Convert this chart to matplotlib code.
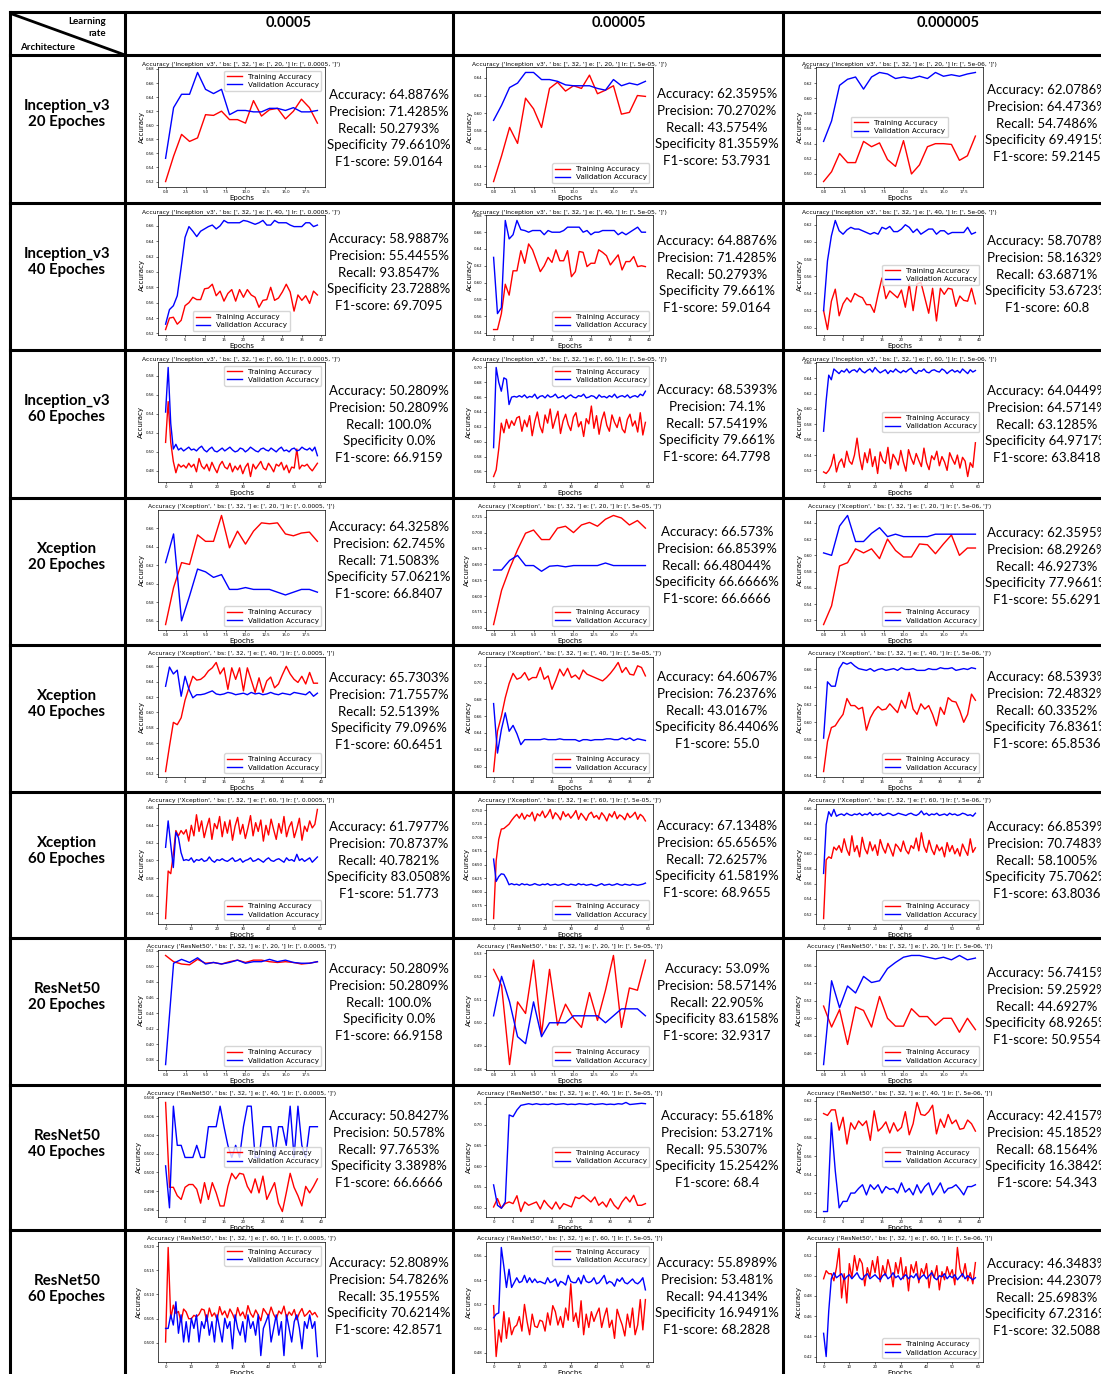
import matplotlib
matplotlib.use('Agg')
import matplotlib.pyplot as plt
from matplotlib.lines import Line2D

# ---- data -------------------------------------------------------------
architectures = ['Inception_v3', 'Xception', 'ResNet50']
epoch_counts = [20, 40, 60]
learning_rates = ['0.0005', '0.00005', '0.000005']
lr_in_title = ['0.0005', '5e-05', '5e-06']

# Inception_v3, 20 epochs
inc20_lr1_train = [0.520,0.556,0.587,0.577,0.582,0.615,0.614,0.620,0.608,0.608,
                   0.603,0.635,0.613,0.622,0.624,0.609,0.620,0.637,0.625,0.603]
inc20_lr1_val = [0.553,0.625,0.644,0.644,0.675,0.651,0.645,0.651,0.615,0.621,
                 0.621,0.619,0.619,0.624,0.624,0.621,0.625,0.619,0.619,0.621]
inc20_lr2_train = [0.523,0.552,0.584,0.566,0.617,0.605,0.584,0.628,0.635,0.625,
                   0.631,0.628,0.643,0.622,0.626,0.631,0.599,0.601,0.620,0.619]
inc20_lr2_val = [0.592,0.609,0.629,0.634,0.646,0.646,0.638,0.638,0.636,0.632,
                 0.631,0.631,0.631,0.628,0.626,0.638,0.631,0.634,0.632,0.636]
inc20_lr3_train = [0.490,0.503,0.527,0.515,0.515,0.543,0.536,0.541,0.519,0.510,
                   0.544,0.500,0.512,0.536,0.540,0.540,0.539,0.518,0.524,0.550]
inc20_lr3_val = [0.543,0.570,0.617,0.625,0.628,0.612,0.628,0.634,0.632,0.626,
                 0.628,0.626,0.629,0.626,0.634,0.629,0.631,0.629,0.632,0.634]

# Inception_v3, 40 epochs
inc40_lr1_train = [0.525,0.540,0.541,0.532,0.537,0.556,0.560,0.567,0.564,0.564,
                   0.578,0.579,0.584,0.569,0.575,0.562,0.572,0.577,0.562,0.577,
                   0.567,0.577,0.570,0.567,0.554,0.563,0.564,0.580,0.563,0.566,
                   0.574,0.584,0.574,0.549,0.570,0.563,0.569,0.559,0.575,0.570]
inc40_lr1_val = [0.532,0.551,0.556,0.569,0.606,0.645,0.659,0.653,0.646,0.653,
                 0.656,0.659,0.661,0.656,0.660,0.667,0.664,0.664,0.664,0.664,
                 0.667,0.666,0.664,0.662,0.664,0.667,0.661,0.661,0.667,0.664,
                 0.664,0.664,0.661,0.659,0.659,0.659,0.664,0.664,0.659,0.661]
inc40_lr2_train = [0.544,0.544,0.563,0.598,0.585,0.614,0.614,0.638,0.623,0.646,
                   0.639,0.626,0.613,0.620,0.630,0.624,0.639,0.626,0.626,0.638,
                   0.607,0.613,0.637,0.636,0.619,0.623,0.623,0.639,0.636,0.632,
                   0.621,0.627,0.633,0.615,0.625,0.625,0.631,0.619,0.620,0.619]
inc40_lr2_val = [0.630,0.563,0.570,0.674,0.652,0.657,0.674,0.663,0.662,0.660,
                 0.662,0.662,0.662,0.657,0.662,0.660,0.660,0.660,0.662,0.666,
                 0.666,0.666,0.666,0.660,0.662,0.657,0.660,0.660,0.662,0.662,
                 0.662,0.662,0.657,0.660,0.657,0.660,0.663,0.666,0.660,0.660]
inc40_lr3_train = [0.520,0.498,0.531,0.545,0.514,0.528,0.535,0.530,0.540,0.537,
                   0.535,0.527,0.527,0.518,0.539,0.558,0.534,0.543,0.539,0.535,
                   0.544,0.524,0.551,0.520,0.551,0.553,0.535,0.517,0.546,0.508,
                   0.546,0.539,0.546,0.545,0.525,0.537,0.532,0.531,0.546,0.528]
inc40_lr3_val = [0.520,0.578,0.607,0.625,0.613,0.609,0.614,0.617,0.615,0.615,
                 0.613,0.611,0.609,0.611,0.609,0.617,0.615,0.618,0.612,0.612,
                 0.615,0.620,0.617,0.611,0.615,0.609,0.612,0.615,0.615,0.609,
                 0.613,0.613,0.609,0.611,0.611,0.611,0.611,0.617,0.609,0.611]

# Inception_v3, 60 epochs
inc60_lr1_train = [0.510,0.553,0.510,0.490,0.478,0.487,0.484,0.486,0.483,0.488,
                   0.484,0.487,0.479,0.493,0.485,0.482,0.487,0.480,0.489,0.483,
                   0.478,0.486,0.490,0.484,0.482,0.488,0.479,0.485,0.481,0.486,
                   0.477,0.484,0.488,0.474,0.487,0.482,0.486,0.490,0.483,0.481,
                   0.488,0.484,0.479,0.487,0.485,0.489,0.481,0.486,0.478,0.484,
                   0.483,0.503,0.482,0.486,0.485,0.487,0.483,0.480,0.484,0.488]
inc60_lr1_val = [0.542,0.589,0.530,0.503,0.508,0.502,0.504,0.501,0.503,0.505,
                 0.502,0.503,0.501,0.504,0.506,0.502,0.500,0.503,0.505,0.501,
                 0.500,0.502,0.504,0.501,0.503,0.505,0.502,0.500,0.501,0.504,
                 0.503,0.500,0.502,0.505,0.503,0.501,0.500,0.503,0.504,0.502,
                 0.501,0.504,0.502,0.500,0.503,0.505,0.501,0.502,0.500,0.503,
                 0.504,0.501,0.502,0.505,0.503,0.502,0.504,0.501,0.505,0.496]
inc60_lr2_train = [0.553,0.562,0.590,0.625,0.612,0.630,0.618,0.628,0.622,0.632,
                   0.634,0.614,0.629,0.620,0.635,0.608,0.627,0.640,0.621,0.612,
                   0.636,0.625,0.644,0.618,0.630,0.641,0.611,0.628,0.637,0.623,
                   0.615,0.633,0.639,0.620,0.627,0.607,0.631,0.624,0.648,0.618,
                   0.635,0.610,0.629,0.640,0.622,0.614,0.636,0.626,0.619,0.633,
                   0.617,0.612,0.630,0.637,0.621,0.628,0.613,0.639,0.609,0.626]
inc60_lr2_val = [0.592,0.700,0.680,0.668,0.686,0.684,0.650,0.660,0.661,0.660,
                 0.662,0.660,0.663,0.659,0.661,0.660,0.664,0.658,0.661,0.662,
                 0.659,0.663,0.660,0.661,0.664,0.659,0.660,0.662,0.658,0.661,
                 0.663,0.660,0.659,0.662,0.661,0.664,0.659,0.660,0.662,0.661,
                 0.658,0.663,0.660,0.661,0.659,0.662,0.660,0.664,0.659,0.661,
                 0.662,0.660,0.663,0.659,0.661,0.662,0.660,0.664,0.662,0.668]
inc60_lr3_train = [0.518,0.516,0.520,0.527,0.541,0.518,0.530,0.535,0.524,0.545,
                   0.532,0.528,0.540,0.562,0.537,0.521,0.543,0.530,0.548,0.525,
                   0.538,0.516,0.544,0.533,0.529,0.550,0.522,0.541,0.535,0.527,
                   0.546,0.531,0.519,0.547,0.536,0.528,0.542,0.533,0.525,0.549,
                   0.530,0.521,0.539,0.534,0.545,0.526,0.538,0.531,0.520,0.543,
                   0.535,0.528,0.540,0.523,0.537,0.532,0.512,0.530,0.524,0.556]
inc60_lr3_val = [0.571,0.611,0.644,0.638,0.652,0.649,0.646,0.650,0.648,0.652,
                 0.647,0.650,0.651,0.648,0.653,0.649,0.647,0.650,0.652,0.648,
                 0.654,0.650,0.647,0.649,0.651,0.646,0.650,0.648,0.652,0.649,
                 0.647,0.650,0.648,0.651,0.653,0.648,0.646,0.650,0.649,0.652,
                 0.648,0.647,0.650,0.651,0.649,0.648,0.652,0.650,0.646,0.649,
                 0.651,0.648,0.650,0.647,0.652,0.649,0.646,0.651,0.648,0.650]

# Xception, 20 epochs
xcp20_lr1_train = [0.556,0.596,0.623,0.621,0.653,0.646,0.646,0.674,0.639,0.657,
                   0.643,0.657,0.666,0.665,0.666,0.654,0.652,0.655,0.656,0.646]
xcp20_lr1_val = [0.623,0.654,0.560,0.587,0.616,0.613,0.607,0.610,0.594,0.594,
                 0.596,0.594,0.594,0.594,0.591,0.588,0.591,0.594,0.594,0.591]
xcp20_lr2_train = [0.555,0.609,0.643,0.673,0.699,0.704,0.689,0.689,0.707,0.710,
                   0.700,0.712,0.716,0.710,0.721,0.727,0.723,0.712,0.719,0.707]
xcp20_lr2_val = [0.641,0.641,0.656,0.664,0.648,0.648,0.639,0.647,0.648,0.646,
                 0.648,0.648,0.648,0.648,0.652,0.648,0.648,0.648,0.648,0.648]
xcp20_lr3_train = [0.515,0.538,0.587,0.591,0.608,0.603,0.608,0.596,0.620,0.606,
                   0.598,0.598,0.614,0.613,0.602,0.614,0.625,0.600,0.609,0.609]
xcp20_lr3_val = [0.603,0.600,0.636,0.649,0.617,0.617,0.627,0.634,0.623,0.626,
                 0.623,0.623,0.623,0.623,0.626,0.626,0.626,0.626,0.626,0.626]

# Xception, 40 epochs
xcp40_lr1_train = [0.523,0.556,0.587,0.584,0.593,0.616,0.632,0.647,0.642,0.643,
                   0.647,0.654,0.658,0.665,0.650,0.658,0.630,0.658,0.643,0.658,
                   0.628,0.658,0.642,0.626,0.645,0.626,0.641,0.646,0.632,0.637,
                   0.649,0.660,0.650,0.643,0.639,0.647,0.637,0.652,0.638,0.638]
xcp40_lr1_val = [0.634,0.659,0.650,0.655,0.621,0.647,0.630,0.619,0.623,0.623,
                 0.624,0.626,0.628,0.624,0.623,0.624,0.626,0.625,0.623,0.624,
                 0.625,0.623,0.626,0.624,0.625,0.623,0.624,0.626,0.624,0.623,
                 0.625,0.624,0.623,0.626,0.625,0.624,0.623,0.627,0.621,0.625]
xcp40_lr2_train = [0.594,0.642,0.660,0.682,0.699,0.711,0.704,0.706,0.712,0.703,
                   0.706,0.706,0.718,0.704,0.708,0.692,0.703,0.716,0.708,0.717,
                   0.706,0.709,0.704,0.715,0.710,0.708,0.706,0.704,0.702,0.706,
                   0.711,0.717,0.724,0.712,0.718,0.710,0.709,0.720,0.718,0.708]
xcp40_lr2_val = [0.675,0.616,0.644,0.664,0.642,0.649,0.639,0.626,0.632,0.632,
                 0.632,0.632,0.632,0.633,0.632,0.632,0.632,0.633,0.632,0.632,
                 0.632,0.632,0.630,0.632,0.632,0.631,0.632,0.632,0.632,0.633,
                 0.633,0.632,0.632,0.634,0.632,0.634,0.631,0.633,0.632,0.631]
xcp40_lr3_train = [0.544,0.578,0.594,0.596,0.603,0.609,0.627,0.619,0.619,0.615,
                   0.617,0.591,0.605,0.613,0.618,0.614,0.615,0.621,0.616,0.611,
                   0.625,0.616,0.634,0.615,0.609,0.621,0.615,0.619,0.609,0.596,
                   0.617,0.609,0.628,0.624,0.623,0.613,0.600,0.609,0.632,0.625]
xcp40_lr3_val = [0.582,0.646,0.641,0.641,0.661,0.668,0.666,0.668,0.664,0.661,
                 0.660,0.659,0.661,0.658,0.660,0.661,0.659,0.660,0.661,0.659,
                 0.662,0.660,0.660,0.661,0.659,0.659,0.659,0.661,0.660,0.660,
                 0.662,0.661,0.661,0.662,0.659,0.660,0.661,0.660,0.662,0.661]

# Xception, 60 epochs
xcp60_lr1_train = [0.534,0.588,0.585,0.607,0.634,0.628,0.634,0.630,0.635,0.622,
                   0.640,0.628,0.652,0.633,0.645,0.626,0.638,0.648,0.624,0.642,
                   0.636,0.650,0.627,0.644,0.631,0.646,0.623,0.639,0.649,0.630,
                   0.641,0.625,0.637,0.651,0.628,0.643,0.633,0.646,0.622,0.640,
                   0.629,0.647,0.635,0.624,0.642,0.631,0.650,0.627,0.638,0.644,
                   0.626,0.636,0.648,0.623,0.639,0.633,0.645,0.637,0.641,0.658]
xcp60_lr1_val = [0.615,0.645,0.618,0.592,0.632,0.626,0.609,0.600,0.601,0.600,
                 0.603,0.598,0.601,0.600,0.602,0.599,0.600,0.604,0.600,0.598,
                 0.601,0.600,0.602,0.600,0.599,0.601,0.603,0.599,0.600,0.602,
                 0.598,0.600,0.601,0.603,0.599,0.600,0.602,0.600,0.598,0.601,
                 0.603,0.600,0.599,0.601,0.602,0.600,0.598,0.603,0.600,0.601,
                 0.599,0.607,0.600,0.602,0.599,0.601,0.603,0.598,0.601,0.604]
xcp60_lr2_train = [0.551,0.657,0.696,0.715,0.716,0.720,0.724,0.731,0.737,0.742,
                   0.735,0.744,0.733,0.741,0.738,0.746,0.730,0.743,0.739,0.748,
                   0.736,0.742,0.751,0.734,0.745,0.740,0.732,0.747,0.738,0.743,
                   0.735,0.741,0.749,0.733,0.744,0.738,0.731,0.742,0.746,0.736,
                   0.740,0.733,0.745,0.739,0.730,0.743,0.737,0.747,0.734,0.741,
                   0.738,0.732,0.744,0.736,0.740,0.746,0.733,0.742,0.738,0.730]
xcp60_lr2_val = [0.660,0.619,0.628,0.633,0.632,0.624,0.613,0.615,0.613,0.614,
                 0.612,0.615,0.613,0.614,0.612,0.613,0.615,0.613,0.612,0.614,
                 0.613,0.615,0.612,0.613,0.614,0.612,0.613,0.615,0.613,0.612,
                 0.614,0.613,0.612,0.615,0.613,0.614,0.612,0.613,0.614,0.612,
                 0.611,0.613,0.615,0.612,0.613,0.614,0.612,0.613,0.615,0.613,
                 0.612,0.614,0.613,0.612,0.614,0.613,0.612,0.613,0.614,0.616]
xcp60_lr3_train = [0.514,0.592,0.596,0.594,0.609,0.605,0.611,0.602,0.620,0.606,
                   0.598,0.624,0.603,0.611,0.596,0.622,0.607,0.600,0.616,0.604,
                   0.612,0.598,0.619,0.608,0.601,0.614,0.606,0.597,0.613,0.609,
                   0.603,0.617,0.605,0.600,0.611,0.607,0.621,0.604,0.628,0.610,
                   0.602,0.618,0.606,0.599,0.612,0.604,0.609,0.596,0.615,0.603,
                   0.611,0.600,0.607,0.597,0.613,0.605,0.598,0.620,0.602,0.608]
xcp60_lr3_val = [0.574,0.639,0.656,0.650,0.659,0.650,0.652,0.653,0.651,0.654,
                 0.652,0.651,0.653,0.652,0.654,0.651,0.653,0.652,0.655,0.651,
                 0.653,0.652,0.654,0.651,0.652,0.654,0.653,0.651,0.652,0.654,
                 0.653,0.652,0.651,0.653,0.654,0.652,0.651,0.653,0.657,0.652,
                 0.654,0.651,0.653,0.652,0.654,0.651,0.652,0.653,0.651,0.654,
                 0.652,0.653,0.651,0.652,0.654,0.653,0.651,0.652,0.650,0.654]

# ResNet50, 20 epochs
res20_lr1_train = [0.514,0.506,0.503,0.502,0.509,0.504,0.505,0.503,0.506,0.508,
                   0.505,0.508,0.508,0.506,0.505,0.506,0.505,0.503,0.504,0.506]
res20_lr1_val = [0.374,0.504,0.509,0.505,0.511,0.503,0.505,0.503,0.505,0.508,
                 0.504,0.506,0.506,0.509,0.506,0.508,0.505,0.504,0.504,0.506]
res20_lr2_train = [0.523,0.516,0.482,0.509,0.504,0.527,0.495,0.523,0.499,0.508,
                   0.502,0.498,0.513,0.501,0.514,0.529,0.498,0.515,0.514,0.527]
res20_lr2_val = [0.503,0.520,0.509,0.494,0.491,0.509,0.494,0.500,0.500,0.500,
                 0.503,0.503,0.503,0.503,0.500,0.503,0.506,0.506,0.506,0.503]
res20_lr3_train = [0.514,0.490,0.510,0.470,0.513,0.509,0.490,0.525,0.500,0.491,
                   0.491,0.511,0.502,0.502,0.492,0.500,0.500,0.484,0.500,0.487]
res20_lr3_val = [0.447,0.543,0.512,0.537,0.529,0.548,0.541,0.543,0.557,0.564,
                 0.570,0.572,0.572,0.570,0.568,0.570,0.567,0.572,0.567,0.569]

# ResNet50, 40 epochs
res40_lr1_train = [0.5075,0.4984,0.4984,0.4975,0.4971,0.4984,0.4987,0.4987,0.4982,0.4967,
                   0.4989,0.4971,0.4989,0.4978,0.4964,0.4964,0.4985,0.4999,0.4993,0.4999,
                   0.4998,0.4985,0.4978,0.4993,0.4978,0.4996,0.4971,0.4980,0.4989,0.4967,
                   0.4958,0.4978,0.4999,0.4984,0.4975,0.4964,0.4985,0.4978,0.4985,0.4993]
res40_lr1_val = [0.5007,0.4962,0.5071,0.5029,0.5029,0.5016,0.5016,0.5016,0.5029,0.5016,
                 0.5016,0.5049,0.5049,0.5049,0.5071,0.5049,0.5029,0.5016,0.5029,0.5016,
                 0.5049,0.5071,0.5071,0.5016,0.5016,0.5049,0.5049,0.5049,0.5016,0.5049,
                 0.5049,0.5029,0.5071,0.5016,0.5071,0.5029,0.5016,0.5049,0.5049,0.5049]
res40_lr2_train = [0.502,0.522,0.499,0.510,0.514,0.510,0.529,0.491,0.514,0.506,
                   0.510,0.514,0.497,0.518,0.506,0.497,0.514,0.497,0.510,0.506,
                   0.502,0.526,0.522,0.530,0.522,0.514,0.526,0.506,0.514,0.502,
                   0.522,0.506,0.497,0.514,0.526,0.514,0.530,0.506,0.506,0.510]
res40_lr2_val = [0.555,0.506,0.499,0.514,0.723,0.719,0.735,0.746,0.748,0.750,
                 0.748,0.750,0.748,0.749,0.748,0.750,0.748,0.749,0.750,0.748,
                 0.749,0.748,0.750,0.749,0.748,0.750,0.748,0.749,0.750,0.748,
                 0.749,0.748,0.750,0.749,0.753,0.748,0.749,0.750,0.751,0.750]
res40_lr3_train = [0.606,0.604,0.610,0.610,0.588,0.602,0.573,0.596,0.589,0.598,
                   0.593,0.598,0.577,0.609,0.587,0.591,0.597,0.585,0.596,0.587,
                   0.591,0.608,0.583,0.595,0.618,0.605,0.604,0.608,0.615,0.584,
                   0.600,0.591,0.605,0.595,0.599,0.589,0.590,0.599,0.595,0.587]
res40_lr3_val = [0.500,0.500,0.596,0.544,0.504,0.511,0.511,0.520,0.520,0.525,
                 0.529,0.518,0.529,0.524,0.529,0.520,0.527,0.524,0.525,0.520,
                 0.531,0.521,0.525,0.518,0.529,0.520,0.527,0.531,0.518,0.524,
                 0.531,0.520,0.525,0.526,0.529,0.524,0.518,0.527,0.527,0.529]

# ResNet50, 60 epochs
res60_lr1_train = [0.5002,0.5197,0.5050,0.5078,0.5061,0.5065,0.5043,0.5070,0.5064,0.5050,
                   0.5050,0.5057,0.5054,0.5059,0.5070,0.5068,0.5045,0.5072,0.5055,0.5062,
                   0.5048,0.5075,0.5058,0.5066,0.5052,0.5070,0.5060,0.5047,0.5073,0.5056,
                   0.5064,0.5050,0.5077,0.5061,0.5053,0.5068,0.5058,0.5046,0.5071,0.5063,
                   0.5055,0.5074,0.5059,0.5049,0.5066,0.5060,0.5076,0.5052,0.5064,0.5057,
                   0.5069,0.5048,0.5062,0.5071,0.5055,0.5060,0.5067,0.5058,0.5063,0.5054]
res60_lr1_val = [0.5030,0.5030,0.5058,0.5037,0.5085,0.5020,0.5058,0.5002,0.5044,0.5002,
                 0.5051,0.5030,0.5058,0.5002,0.5044,0.5030,0.5058,0.5016,0.5044,0.5002,
                 0.5058,0.5030,0.5002,0.5051,0.5030,0.5044,0.4988,0.5058,0.5030,0.5016,
                 0.5044,0.5002,0.5058,0.5030,0.5044,0.5016,0.5058,0.4974,0.5030,0.5044,
                 0.5058,0.5002,0.5030,0.5058,0.5016,0.5044,0.4974,0.5058,0.5030,0.5002,
                 0.5044,0.5058,0.5030,0.4988,0.5044,0.5030,0.5058,0.5030,0.5044,0.4972]
res60_lr2_train = [0.519,0.477,0.499,0.489,0.514,0.492,0.509,0.495,0.501,0.503,
                   0.510,0.498,0.520,0.506,0.495,0.512,0.502,0.501,0.507,0.506,
                   0.498,0.513,0.503,0.519,0.514,0.503,0.510,0.501,0.517,0.507,
                   0.537,0.506,0.513,0.501,0.523,0.495,0.512,0.501,0.514,0.506,
                   0.512,0.517,0.501,0.510,0.517,0.501,0.507,0.492,0.516,0.509,
                   0.503,0.494,0.512,0.501,0.517,0.495,0.503,0.524,0.499,0.524]
res60_lr2_val = [0.509,0.512,0.513,0.567,0.551,0.534,0.549,0.534,0.538,0.542,
                 0.538,0.539,0.544,0.538,0.542,0.538,0.541,0.538,0.539,0.538,
                 0.537,0.542,0.538,0.539,0.541,0.535,0.539,0.538,0.536,0.544,
                 0.539,0.538,0.538,0.542,0.537,0.544,0.539,0.538,0.539,0.542,
                 0.537,0.538,0.541,0.544,0.537,0.539,0.538,0.535,0.541,0.539,
                 0.542,0.538,0.537,0.539,0.541,0.538,0.537,0.539,0.542,0.532]
res60_lr3_train = [0.497,0.505,0.502,0.502,0.495,0.508,0.527,0.478,0.502,0.473,
                   0.512,0.498,0.520,0.505,0.517,0.512,0.490,0.508,0.499,0.515,
                   0.503,0.519,0.494,0.510,0.500,0.516,0.506,0.489,0.513,0.502,
                   0.518,0.497,0.509,0.485,0.511,0.503,0.514,0.493,0.507,0.501,
                   0.512,0.488,0.505,0.498,0.510,0.486,0.504,0.496,0.509,0.500,
                   0.506,0.491,0.528,0.507,0.499,0.512,0.495,0.503,0.492,0.513]
res60_lr3_val = [0.443,0.420,0.465,0.497,0.503,0.498,0.500,0.502,0.496,0.499,
                 0.501,0.497,0.500,0.503,0.498,0.496,0.500,0.502,0.497,0.499,
                 0.501,0.498,0.496,0.500,0.502,0.497,0.499,0.503,0.498,0.500,
                 0.496,0.499,0.501,0.497,0.500,0.498,0.502,0.496,0.499,0.501,
                 0.497,0.500,0.503,0.498,0.496,0.500,0.499,0.502,0.497,0.500,
                 0.498,0.501,0.496,0.499,0.502,0.497,0.500,0.498,0.496,0.498]

# test metrics per row (architecture x epochs), per column (learning rate)
metric_names = ['Accuracy: ', 'Precision: ', 'Recall: ', 'Specificity ', 'F1-score: ']
metric_units = ['%', '%', '%', '%', '']
metrics = [
    [['64.8876', '71.4285', '50.2793', '79.6610', '59.0164'],
     ['62.3595', '70.2702', '43.5754', '81.3559', '53.7931'],
     ['62.0786', '64.4736', '54.7486', '69.4915', '59.2145']],
    [['58.9887', '55.4455', '93.8547', '23.7288', '69.7095'],
     ['64.8876', '71.4285', '50.2793', '79.661', '59.0164'],
     ['58.7078', '58.1632', '63.6871', '53.6723', '60.8']],
    [['50.2809', '50.2809', '100.0', '0.0', '66.9159'],
     ['68.5393', '74.1', '57.5419', '79.661', '64.7798'],
     ['64.0449', '64.5714', '63.1285', '64.9717', '63.8418']],
    [['64.3258', '62.745', '71.5083', '57.0621', '66.8407'],
     ['66.573', '66.8539', '66.48044', '66.6666', '66.6666'],
     ['62.3595', '68.2926', '46.9273', '77.9661', '55.6291']],
    [['65.7303', '71.7557', '52.5139', '79.096', '60.6451'],
     ['64.6067', '76.2376', '43.0167', '86.4406', '55.0'],
     ['68.5393', '72.4832', '60.3352', '76.8361', '65.8536']],
    [['61.7977', '70.8737', '40.7821', '83.0508', '51.773'],
     ['67.1348', '65.6565', '72.6257', '61.5819', '68.9655'],
     ['66.8539', '70.7483', '58.1005', '75.7062', '63.8036']],
    [['50.2809', '50.2809', '100.0', '0.0', '66.9158'],
     ['53.09', '58.5714', '22.905', '83.6158', '32.9317'],
     ['56.7415', '59.2592', '44.6927', '68.9265', '50.9554']],
    [['50.8427', '50.578', '97.7653', '3.3898', '66.6666'],
     ['55.618', '53.271', '95.5307', '15.2542', '68.4'],
     ['42.4157', '45.1852', '68.1564', '16.3842', '54.343']],
    [['52.8089', '54.7826', '35.1955', '70.6214', '42.8571'],
     ['55.8989', '53.481', '94.4134', '16.9491', '68.2828'],
     ['46.3483', '44.2307', '25.6983', '67.2316', '32.5088']],
]

histories = [
    [(inc20_lr1_train, inc20_lr1_val), (inc20_lr2_train, inc20_lr2_val), (inc20_lr3_train, inc20_lr3_val)],
    [(inc40_lr1_train, inc40_lr1_val), (inc40_lr2_train, inc40_lr2_val), (inc40_lr3_train, inc40_lr3_val)],
    [(inc60_lr1_train, inc60_lr1_val), (inc60_lr2_train, inc60_lr2_val), (inc60_lr3_train, inc60_lr3_val)],
    [(xcp20_lr1_train, xcp20_lr1_val), (xcp20_lr2_train, xcp20_lr2_val), (xcp20_lr3_train, xcp20_lr3_val)],
    [(xcp40_lr1_train, xcp40_lr1_val), (xcp40_lr2_train, xcp40_lr2_val), (xcp40_lr3_train, xcp40_lr3_val)],
    [(xcp60_lr1_train, xcp60_lr1_val), (xcp60_lr2_train, xcp60_lr2_val), (xcp60_lr3_train, xcp60_lr3_val)],
    [(res20_lr1_train, res20_lr1_val), (res20_lr2_train, res20_lr2_val), (res20_lr3_train, res20_lr3_val)],
    [(res40_lr1_train, res40_lr1_val), (res40_lr2_train, res40_lr2_val), (res40_lr3_train, res40_lr3_val)],
    [(res60_lr1_train, res60_lr1_val), (res60_lr2_train, res60_lr2_val), (res60_lr3_train, res60_lr3_val)],
]

# ---- layout (pixels of the 1101x1374 canvas) --------------------------
W, H = 1101, 1374
col_left = [125, 453, 783]
row_top = [55, 203, 350, 498, 645, 792, 938, 1085, 1230]
legend_locs = [
    ['upper right', 'lower right', 'center'],
    ['lower center', 'lower right', 'center right'],
    ['upper right', 'upper right', 'center right'],
    ['lower right', 'lower right', 'lower right'],
    ['lower right', 'lower right', 'lower right'],
    ['lower right', 'lower right', 'lower right'],
    ['lower right', 'lower right', 'lower right'],
    ['center right', 'center right', 'center right'],
    ['upper right', 'upper right', 'lower right'],
]
metric_first_y = [[95, 94, 90], [239, 241, 241], [391, 390, 391],
                  [527, 532, 533], [678, 677, 677], [827, 826, 827],
                  [969, 969, 973], [1116, 1116, 1116], [1263, 1263, 1264]]

fig = plt.figure(figsize=(W / 100, H / 100), dpi=100)
fig.patch.set_facecolor('white')


def fx(x):
    return x / W


def fy(y):
    return 1 - y / H


def rule(x0, y0, x1, y1, lw=2.2):
    fig.add_artist(Line2D([fx(x0), fx(x1)], [fy(y0), fy(y1)],
                          transform=fig.transFigure, color='black', lw=lw))


# table grid
rule(10, 12, W, 12)
rule(10, 55, W, 55)
for y in row_top[1:]:
    rule(10, y, W, y)
for x in [10] + col_left:
    rule(x, 12, x, H)
rule(12, 14, 125, 55, lw=2.0)

# header
fig.text(fx(106), fy(21), 'Learning', ha='right', va='center', fontsize=7,
         family='Lato', weight='bold')
fig.text(fx(106), fy(34), 'rate', ha='right', va='center', fontsize=7,
         family='Lato', weight='bold')
fig.text(fx(20), fy(48), 'Architecture', ha='left', va='center', fontsize=7,
         family='Lato', weight='bold')
for x, lr in zip([289, 619, 948], learning_rates):
    fig.text(fx(x), fy(23), lr, ha='center', va='center', fontsize=10.5,
             family='Lato', weight='bold')

# rows
for r in range(9):
    arch = architectures[r // 3]
    ep = epoch_counts[r % 3]
    rt = row_top[r]
    fig.text(fx(67), fy(rt + 59), f'{arch}\n{ep} Epoches', ha='center', va='center',
             fontsize=10.8, family='Lato', weight='bold', linespacing=1.2)
    for c in range(3):
        train, val = histories[r][c]
        cl = col_left[c]
        ax = fig.add_axes([fx(cl + 33), fy(rt + 132), 167 / W, 120 / H])
        ax.plot(range(len(train)), train, color='red', lw=1.0, label='Training Accuracy')
        ax.plot(range(len(val)), val, color='blue', lw=1.0, label='Validation Accuracy')
        ax.set_title(f"Accuracy ('{arch}', ' bs: [', 32, '] e: [', {ep}, '] lr: [', "
                     f"{lr_in_title[c]}, ']')", fontsize=4.3, pad=1.5)
        ax.set_xlabel('Epochs', fontsize=5, labelpad=0.5)
        ax.set_ylabel('Accuracy', fontsize=5, labelpad=1)
        ax.tick_params(labelsize=2.8, length=1.5, width=0.4, pad=1)
        for s in ax.spines.values():
            s.set_linewidth(0.5)
        ax.legend(loc=legend_locs[r][c], fontsize=5.2, handlelength=2,
                  borderpad=0.4, labelspacing=0.3, framealpha=0.8)

        # test metrics to the right of the plot
        y0 = metric_first_y[r][c]
        for i in range(5):
            s = metric_names[i] + metrics[r][c][i] + metric_units[i]
            fig.text(fx(cl + 264), fy(y0 + i * 16.8), s, ha='center', va='center',
                     fontsize=9.5, family='Lato')

fig.savefig('out.png', dpi=100, facecolor='white')
